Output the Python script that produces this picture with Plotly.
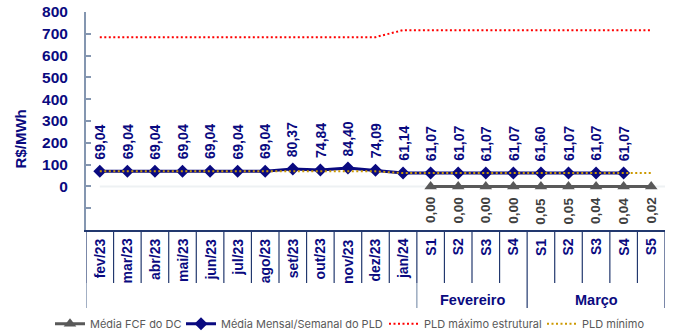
import plotly.graph_objects as go

# Categories: monthly averages, then weekly values for February and March
months = ["fev/23", "mar/23", "abr/23", "mai/23", "jun/23", "jul/23", "ago/23",
          "set/23", "out/23", "nov/23", "dez/23", "jan/24"]
weeks_fev = ["S1", "S2", "S3", "S4"]
weeks_mar = ["S1", "S2", "S3", "S4", "S5"]
groups = ["Fevereiro", "Março"]

# Média Mensal/Semanal do PLD (R$/MWh)
pld_mensal = [69.04, 69.04, 69.04, 69.04, 69.04, 69.04, 69.04,
              80.37, 74.84, 84.40, 74.09, 61.14]
pld_semanal = [61.07, 61.07, 61.07, 61.07,
               61.60, 61.07, 61.07, 61.07]

# Média FCF do DC (weekly)
fcf_semanal = [0.00, 0.00, 0.00, 0.00, 0.05, 0.05, 0.04, 0.04, 0.02]

# Regulatory limits per year
pld_max_2023, pld_max_2024 = 684.73, 716.80
pld_min_2023, pld_min_2024 = 69.04, 61.07

y_ticks = [-200, -100, 0, 100, 200, 300, 400, 500, 600, 700, 800]

labels = months + weeks_fev + weeks_mar
n = len(labels)
xc = [i + 0.5 for i in range(n)]
n_months = len(months)

navy = "#0A0A80"
axis_col = "#8496B0"
sep_col = "#22386E"
label_font = "Liberation Sans Narrow, Liberation Sans, Arial"
legend_font = dict(family="Inter, Liberation Sans", size=11, color="#595959")


def fmt(v):
    return f"{v:.2f}".replace(".", ",")


pld_all = pld_mensal + pld_semanal
fcf_x = xc[n_months:]
pld_max = [pld_max_2023 if i < n_months - 1 else pld_max_2024 for i in range(n)]
pld_min = [pld_min_2023 if i < n_months - 1 else pld_min_2024 for i in range(n)]

fig = go.Figure()

fig.add_trace(go.Scatter(
    x=fcf_x, y=fcf_semanal, name="Média FCF do DC", mode="lines+markers",
    line=dict(color="#595959", width=3),
    marker=dict(symbol="triangle-up", size=11, color="#595959"),
    legend="legend",
))
fig.add_trace(go.Scatter(
    x=xc[:len(pld_all)], y=pld_all, name="Média Mensal/Semanal do PLD",
    mode="lines+markers",
    line=dict(color=navy, width=3),
    marker=dict(symbol="diamond", size=10, color=navy),
    legend="legend2",
))
fig.add_trace(go.Scatter(
    x=xc, y=pld_max, name="PLD máximo estrutural", mode="lines",
    line=dict(color="#FF0000", width=2, dash="2px,2.5px"),
    legend="legend3",
))
fig.add_trace(go.Scatter(
    x=xc, y=pld_min, name="PLD mínimo", mode="lines",
    line=dict(color="#CC9900", width=2, dash="2px,2.5px"),
    legend="legend4",
))

annotations = []
# PLD value labels above the points
for x, v in zip(xc, pld_all):
    annotations.append(dict(
        x=x, y=v, xref="x", yref="y", text=fmt(v), showarrow=False,
        textangle=-90, xanchor="center", yanchor="bottom", yshift=10,
        font=dict(family=label_font, size=14, color=navy, weight="bold"),
    ))
# FCF value labels below the points
for x, v in zip(fcf_x, fcf_semanal):
    annotations.append(dict(
        x=x, y=v, xref="x", yref="y", text=fmt(v), showarrow=False,
        textangle=-90, xanchor="center", yanchor="top", yshift=-9,
        font=dict(family=label_font, size=13.5, color="#404040", weight="bold"),
    ))
# Category labels
for x, lab in zip(xc, labels):
    annotations.append(dict(
        x=x, y=-0.03, xref="x", yref="paper", text=lab, showarrow=False,
        textangle=-90, xanchor="center", yanchor="top",
        font=dict(family=label_font, size=14, color=navy, weight="bold"),
    ))
# Group labels for the weekly categories
fev_center = n_months + len(weeks_fev) / 2
mar_center = n_months + len(weeks_fev) + len(weeks_mar) / 2
for x, g in zip([fev_center, mar_center], groups):
    annotations.append(dict(
        x=x, y=-0.321, xref="x", yref="paper", text=g, showarrow=False,
        xanchor="center", yanchor="middle",
        font=dict(family="Liberation Sans, Arial", size=14.5, color=navy, weight="bold"),
    ))
# Y axis title
annotations.append(dict(
    x=-0.114, y=0.42, xref="paper", yref="paper", text="R$/MWh", showarrow=False,
    textangle=-90, xanchor="center", yanchor="middle",
    font=dict(family="Liberation Sans, Arial", size=15, color=navy, weight="bold"),
))

shapes = []
# faint baseline at zero
shapes.append(dict(type="line", xref="x", yref="y", x0=0.5, x1=n, y0=0, y1=0,
                   line=dict(color="#EEF1F3", width=2), layer="below"))
# category separators
group_edges = {0, n_months, n_months + len(weeks_fev), n}
for k in range(n + 1):
    shapes.append(dict(type="line", xref="x", yref="paper", x0=k, x1=k,
                       y0=0, y1=-0.243, line=dict(color=sep_col, width=1.2)))
    if k in group_edges:
        shapes.append(dict(type="line", xref="x", yref="paper", x0=k, x1=k,
                           y0=-0.243, y1=-0.358,
                           line=dict(color=axis_col if k in (0, n_months) else sep_col,
                                     width=1.5 if k == 0 else 1.2)))


def legend_at(px):
    # one legend box per series, left edge given in pixels
    return dict(orientation="h", x=(px - 86) / 579, y=-0.43, xanchor="left",
                yanchor="middle", font=legend_font, itemwidth=30,
                bgcolor="rgba(0,0,0,0)")


fig.update_layout(
    width=678, height=335,
    margin=dict(l=86, r=13, t=12, b=105, autoexpand=False),
    plot_bgcolor="white", paper_bgcolor="white",
    showlegend=True,
    legend=legend_at(50),
    legend2=legend_at(181),
    legend3=legend_at(384),
    legend4=legend_at(542),
    annotations=annotations,
    shapes=shapes,
)
fig.update_xaxes(range=[0, n], showgrid=False, zeroline=False, showticklabels=False,
                 showline=True, linecolor=sep_col, linewidth=2, ticks="")
fig.update_yaxes(range=[-200, 800], tickvals=y_ticks,
                 ticktext=[str(t) if t >= 0 else "" for t in y_ticks],
                 showgrid=False, zeroline=False, showline=True, linecolor=axis_col,
                 linewidth=2, ticks="inside", ticklen=5, tickcolor=axis_col, tickwidth=1.5,
                 ticklabelstandoff=13,
                 tickfont=dict(family="Liberation Sans, Arial", size=15.5, color=navy,
                               weight="bold"))

fig.write_html("out.html")
